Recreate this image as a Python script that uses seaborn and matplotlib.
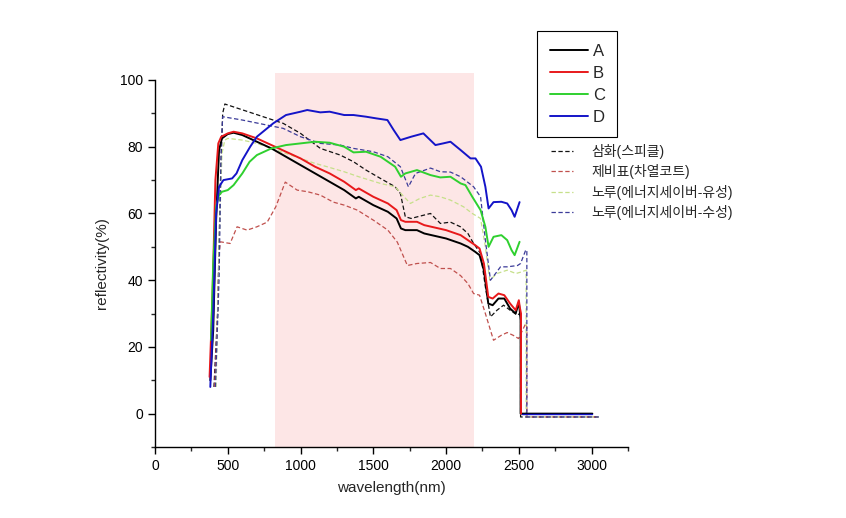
import numpy as np
import pandas as pd
import matplotlib
matplotlib.use("Agg")
import matplotlib.pyplot as plt
import seaborn as sns
from matplotlib.ticker import MultipleLocator

# A (black solid)
a_wl = [380, 400, 420, 440, 460, 500, 540, 600, 700, 800, 900, 1000, 1100, 1200, 1300, 1380, 1400,
        1500, 1600, 1660, 1690, 1720, 1800, 1850, 1900, 2000, 2100, 2150, 2200, 2230, 2260, 2290,
        2320, 2360, 2400, 2440, 2478, 2500, 2506, 2512, 2512, 3005]
a_val = [10, 25, 58, 79, 82.5, 83.8, 84.2, 83.5, 81.5, 79.5, 77, 74.5, 72, 69.5, 67, 64.5, 65,
         62.5, 60.5, 58.5, 55.5, 55, 55, 54, 53.5, 52.5, 51, 50, 48.5, 47.5, 43, 33,
         32.5, 34.5, 34.5, 31.5, 30, 33.3, 31, 28, 0, 0]

# B (red solid)
b_wl = [375, 395, 415, 435, 455, 500, 540, 600, 700, 800, 900, 1000, 1100, 1200, 1300, 1380, 1400,
        1500, 1600, 1660, 1690, 1720, 1800, 1850, 1900, 2000, 2100, 2150, 2200, 2230, 2260, 2290,
        2320, 2360, 2400, 2440, 2478, 2500, 2506, 2515, 2515]
b_val = [11, 35, 70, 81, 83, 84, 84.5, 84, 82.5, 80.5, 78.5, 76.5, 74, 72, 69.5, 67, 67.5,
         65, 63, 61, 58, 57.5, 57.5, 56.5, 56, 55, 53.5, 52, 50.5, 49.5, 45, 35,
         34.5, 36, 35.5, 33, 31, 34, 32, 30, 0]

# C (green solid)
c_wl = [385, 400, 420, 440, 460, 500, 540, 600, 650, 700, 800, 900, 1000, 1100, 1200, 1300, 1364,
        1450, 1550, 1650, 1690, 1720, 1800, 1893, 1960, 2030, 2100, 2133, 2180, 2237, 2270, 2292,
        2326, 2380, 2420, 2450, 2471, 2505]
c_val = [22, 45, 62, 65.5, 66.5, 67, 68.5, 72, 75.5, 77.5, 79.5, 80.5, 81, 81.5, 81.2, 80, 78.3,
         78.5, 77, 74, 71, 72, 73, 71.5, 70.8, 71, 69, 68.5, 65, 61, 56, 50,
         53, 53.5, 52, 49, 47.5, 51.5]

# D (blue solid)
d_wl = [380, 400, 420, 440, 470, 530, 560, 600, 654, 700, 812, 900, 1000, 1046, 1136, 1200, 1300,
        1364, 1450, 1520, 1597, 1640, 1686, 1760, 1844, 1927, 1980, 2030, 2100, 2168, 2202, 2240,
        2270, 2292, 2326, 2380, 2420, 2450, 2471, 2505]
d_val = [8, 30, 60, 68, 70, 70.5, 72, 76, 80, 83, 87, 89.5, 90.5, 91, 90.3, 90.5, 89.5,
         89.5, 89, 88.5, 88, 85, 82, 83, 84, 80.5, 81, 81.5, 79, 76.5, 76.5, 74,
         68, 61.5, 63.4, 63.5, 63, 61, 59, 63.4]
d_tail_wl = [2520, 3005]
d_tail_val = [0, 0]

# 삼화(스피클) (black dashed)
e_wl = [405, 430, 450, 465, 480, 881, 1000, 1136, 1273, 1364, 1450, 1549, 1650, 1686, 1720, 1760,
        1803, 1893, 1961, 2030, 2099, 2150, 2189, 2237, 2270, 2305, 2350, 2395, 2440, 2491, 2505,
        2512, 2512, 3050]
e_val = [8, 30, 70, 90, 92.8, 87, 84, 79.5, 77.5, 75.5, 73, 70.5, 68, 66, 59, 58.5,
         59, 60, 57, 57.4, 56, 54, 51, 48, 38, 29, 31, 32.5, 31, 29.5, 30,
         29, -1, -1]

# 제비표(차열코트) (red dashed)
h_wl = [410, 430, 440, 450, 516, 564, 633, 700, 771, 830, 895, 977, 1050, 1136, 1225, 1300, 1390,
        1500, 1600, 1665, 1734, 1800, 1893, 1961, 2030, 2099, 2150, 2189, 2230, 2270, 2326, 2380,
        2420, 2460, 2498, 2547, 2555, 2555, 3050]
h_val = [8, 30, 48, 51.5, 51, 56, 55, 56, 57.4, 62, 69.4, 67, 66.5, 65.5, 63.4, 62.5, 61,
         58, 55, 51.4, 44.4, 45, 45.3, 43.5, 43.5, 41.4, 39, 36, 35.5, 30, 22, 23.5,
         24.3, 23.5, 22.5, 27, 26, -1, -1]

# 노루(에너지세이버-유성) (light green dashed)
g_wl = [420, 440, 460, 480, 500, 600, 700, 800, 900, 1000, 1100, 1183, 1300, 1400, 1549, 1650,
        1700, 1755, 1820, 1893, 1960, 2030, 2120, 2180, 2237, 2270, 2300, 2350, 2420, 2480, 2512,
        2550, 2550, 3050]
g_val = [8, 50, 78, 82, 82.5, 82, 81, 79.5, 78, 76.5, 75, 74, 72.5, 71, 69, 68,
         65.5, 63, 64.5, 65.5, 65, 64, 62, 60, 58.5, 50, 40, 42, 43, 42, 42.4,
         43, -1, -1]

# 노루(에너지세이버-수성) (blue dashed)
f_wl = [415, 440, 455, 465, 600, 881, 1000, 1136, 1273, 1364, 1500, 1600, 1686, 1741, 1790, 1893,
        1961, 2030, 2100, 2189, 2237, 2270, 2305, 2340, 2374, 2420, 2491, 2512, 2547, 2555, 2555,
        3050]
f_val = [8, 40, 80, 89, 88, 85.5, 83, 81, 80.5, 79.5, 78.5, 77, 74, 68, 72, 73.6,
         72.5, 72.4, 71, 68, 65, 52, 40, 42, 44, 44, 44.4, 45, 49, 49, -1,
         -1]

band = (825, 2190)

sns.set_style("ticks")
plt.rcParams["font.family"] = ["Liberation Sans", "Noto Sans CJK KR", "DejaVu Sans"]

fig = plt.figure(figsize=(8.46, 5.18), dpi=100)
ax = fig.add_axes([155 / 846, 71 / 518, 473 / 846, 367 / 518])

ax.axvspan(band[0], band[1], ymin=0, ymax=1.018, color="#fde6e6", lw=0, zorder=0, clip_on=False)

dashed = [
    (e_wl, e_val, "#111111", "삼화(스피클)"),
    (h_wl, h_val, "#c0504d", "제비표(차열코트)"),
    (g_wl, g_val, "#c6e08a", "노루(에너지세이버-유성)"),
    (f_wl, f_val, "#3b3b99", "노루(에너지세이버-수성)"),
]
solid = [
    (a_wl, a_val, "#000000", "A"),
    (b_wl, b_val, "#e8191b", "B"),
    (c_wl, c_val, "#2fd02f", "C"),
    (d_wl, d_val, "#1414c8", "D"),
]

dash_handles = []
for wl, val, col, lab in dashed:
    sns.lineplot(x=wl, y=val, ax=ax, color=col, lw=0.9, sort=False, estimator=None,
                 linestyle=(0, (3.5, 2)))
    dash_handles.append(ax.lines[-1])

solid_handles = []
for wl, val, col, lab in solid:
    sns.lineplot(x=wl, y=val, ax=ax, color=col, lw=1.4, sort=False, estimator=None)
    solid_handles.append(ax.lines[-1])
sns.lineplot(x=d_tail_wl, y=d_tail_val, ax=ax, color="#1414c8", lw=1.0, estimator=None)

ax.set_xlim(0, 3250)
ax.set_ylim(-10, 100)
ax.xaxis.set_major_locator(MultipleLocator(500))
ax.xaxis.set_minor_locator(MultipleLocator(250))
ax.yaxis.set_major_locator(MultipleLocator(20))
ax.yaxis.set_minor_locator(MultipleLocator(10))
ax.set_yticks([0, 20, 40, 60, 80, 100])
ax.tick_params(axis="both", which="major", direction="out", length=5, width=1, labelsize=10,
               colors="black")
ax.tick_params(axis="both", which="minor", direction="out", length=3, width=1)
for s in ["top", "right"]:
    ax.spines[s].set_visible(False)
for s in ["left", "bottom"]:
    ax.spines[s].set_linewidth(1)
    ax.spines[s].set_color("black")
ax.set_xlabel("wavelength(nm)", fontsize=11, labelpad=6)
ax.set_ylabel("reflectivity(%)", fontsize=11, labelpad=8)

leg1 = fig.legend(solid_handles, [s[3] for s in solid], loc="upper left",
                  bbox_to_anchor=(537 / 846, 1 - 31 / 518), fontsize=12, frameon=True,
                  fancybox=False, edgecolor="black", framealpha=1, handlelength=2.3,
                  handletextpad=0.3, labelspacing=0.42, borderpad=0.75, borderaxespad=0)
leg1.get_frame().set_linewidth(0.8)
leg2 = fig.legend(dash_handles, [d[3] for d in dashed], loc="upper left",
                  bbox_to_anchor=(551 / 846, 1 - 144 / 518), fontsize=10, frameon=False,
                  handlelength=1.6, handletextpad=1.3, labelspacing=0.38, borderpad=0,
                  borderaxespad=0)

fig.savefig("out.png", dpi=100)
